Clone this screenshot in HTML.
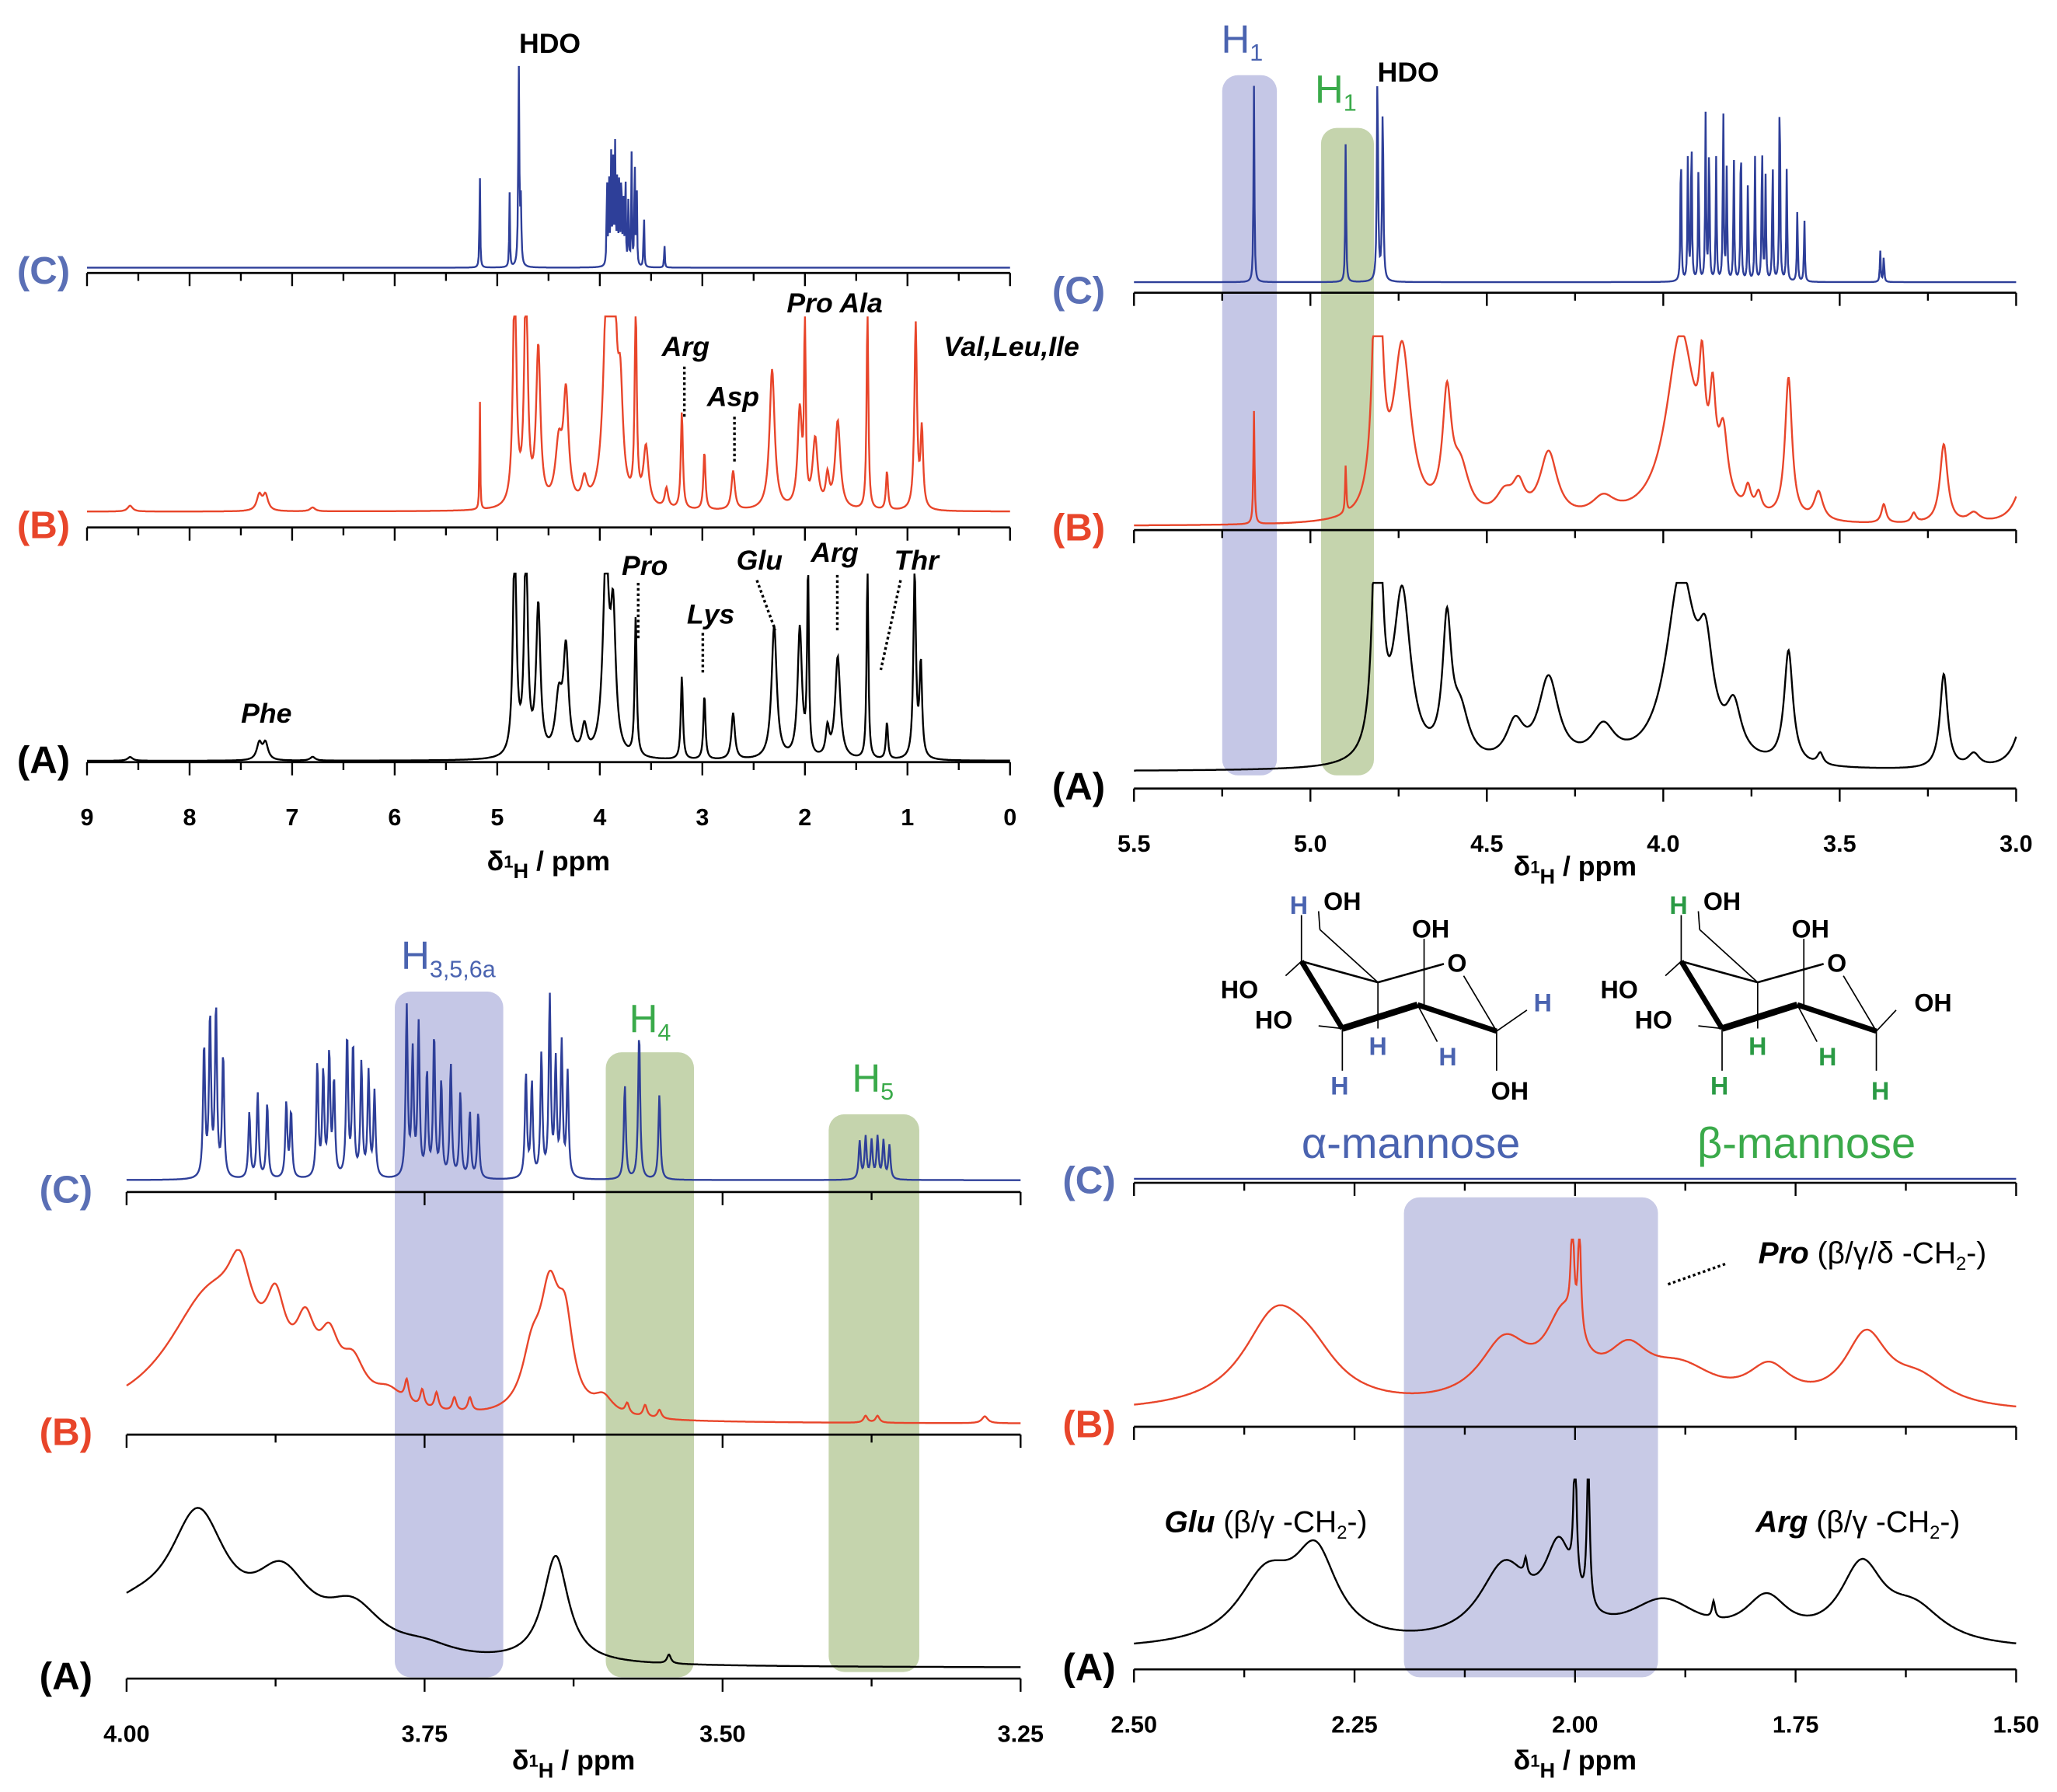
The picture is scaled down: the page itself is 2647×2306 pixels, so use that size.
<!DOCTYPE html>
<html><head><meta charset="utf-8"><style>
html,body{margin:0;padding:0;background:#fff}
svg{display:block}
text{font-family:"Liberation Sans",sans-serif}
</style></head><body>
<svg id="fig" width="2647" height="2306" viewBox="0 0 1560 1359" preserveAspectRatio="none" xmlns="http://www.w3.org/2000/svg">
<g id="bg"></g>
<g id="spec"></g>
<g id="ax"></g>
<g id="ann" font-weight="bold">
  <text x="417" y="40" font-size="21" text-anchor="middle">HDO</text>
  <text x="1068" y="62" font-size="21" text-anchor="middle">HDO</text>
  <g font-style="italic" font-size="21">
    <text x="202" y="548" text-anchor="middle">Phe</text>
    <text x="520" y="270" text-anchor="middle">Arg</text>
    <text x="556" y="308" text-anchor="middle">Asp</text>
    <text x="633" y="237" text-anchor="middle">Pro  Ala</text>
    <text x="767" y="270" text-anchor="middle">Val,Leu,Ile</text>
    <text x="489" y="436" text-anchor="middle">Pro</text>
    <text x="539" y="473" text-anchor="middle">Lys</text>
    <text x="576" y="432" text-anchor="middle">Glu</text>
    <text x="633" y="426" text-anchor="middle">Arg</text>
    <text x="695" y="432" text-anchor="middle">Thr</text>
  </g>
  <g stroke="#000" stroke-width="2" stroke-dasharray="2,2" fill="none">
    <line x1="519" y1="278" x2="519" y2="318"/><line x1="557" y1="316" x2="557" y2="352"/>
    <line x1="484" y1="442" x2="484" y2="484"/><line x1="533" y1="480" x2="533" y2="510"/>
    <line x1="574" y1="440" x2="588" y2="478"/><line x1="635" y1="436" x2="635" y2="480"/>
    <line x1="683" y1="440" x2="668" y2="508"/>
    <line x1="1265" y1="974" x2="1310" y2="958"/>
  </g>
  <text x="942" y="40" font-size="30" fill="#4a63b0" font-weight="normal" text-anchor="middle">H<tspan font-size="18" dy="6">1</tspan></text>
  <text x="1013" y="78" font-size="30" fill="#3aaa4a" font-weight="normal" text-anchor="middle">H<tspan font-size="18" dy="6">1</tspan></text>
  <text x="340" y="735" font-size="30" fill="#4a63b0" font-weight="normal" text-anchor="middle">H<tspan font-size="18" dy="6">3,5,6a</tspan></text>
  <text x="493" y="783" font-size="30" fill="#3aaa4a" font-weight="normal" text-anchor="middle">H<tspan font-size="18" dy="6">4</tspan></text>
  <text x="662" y="828" font-size="30" fill="#3aaa4a" font-weight="normal" text-anchor="middle">H<tspan font-size="18" dy="6">5</tspan></text>
  <text x="1420" y="958" font-size="23" text-anchor="middle"><tspan font-style="italic">Pro</tspan><tspan font-weight="normal"> (β/γ/δ -CH</tspan><tspan font-size="14" dy="5" font-weight="normal">2</tspan><tspan dy="-5" font-weight="normal">-)</tspan></text>
  <text x="960" y="1162" font-size="23" text-anchor="middle"><tspan font-style="italic">Glu</tspan><tspan font-weight="normal"> (β/γ -CH</tspan><tspan font-size="14" dy="5" font-weight="normal">2</tspan><tspan dy="-5" font-weight="normal">-)</tspan></text>
  <text x="1409" y="1162" font-size="23" text-anchor="middle"><tspan font-style="italic">Arg</tspan><tspan font-weight="normal"> (β/γ -CH</tspan><tspan font-size="14" dy="5" font-weight="normal">2</tspan><tspan dy="-5" font-weight="normal">-)</tspan></text>
  <text x="1070" y="878" font-size="33" fill="#4a63b0" font-weight="normal" text-anchor="middle">α-mannose</text>
  <text x="1370" y="878" font-size="33" fill="#3aaa4a" font-weight="normal" text-anchor="middle">β-mannose</text>
</g>
<g id="mol"></g>
</svg>
<script>
// ----- panel axis ranges (ppm) -----
const p1Range=[9,0], p2Range=[5.5,3.0], p3Range=[4.0,3.25], p4Range=[2.5,1.5];
// ----- peak data: positions (ppm), heights (rel), widths (ppm HWHM) -----
const p1C_pos=[5.17,4.88,4.79,4.77,3.93,3.91,3.89,3.87,3.85,3.83,3.81,3.79,3.77,3.75,3.72,3.69,3.66,3.64,3.57,3.37];
const p1C_h=[0.5,0.38,1.0,0.3,0.5,0.45,0.55,0.5,0.6,0.45,0.5,0.55,0.45,0.5,0.4,0.55,0.6,0.4,0.3,0.12];
const p1C_w=[0.004,0.004,0.006,0.006,0.004,0.004,0.004,0.004,0.004,0.004,0.004,0.004,0.004,0.004,0.004,0.004,0.004,0.004,0.004,0.004];
const p1B_pos=[8.58,7.32,7.26,6.8,5.17,4.83,4.72,4.6,4.4,4.33,4.15,3.93,3.86,3.8,3.65,3.55,3.35,3.2,2.98,2.7,2.32,2.05,2.0,1.9,1.78,1.68,1.39,1.2,0.92,0.86];
const p1B_h=[0.03,0.08,0.08,0.02,0.62,1.2,1.2,0.8,0.3,0.55,0.12,1.1,0.9,0.5,1.0,0.3,0.1,0.5,0.3,0.2,0.72,0.5,1.05,0.35,0.15,0.45,1.05,0.2,0.95,0.4];
const p1B_w=[0.03,0.03,0.03,0.03,0.004,0.02,0.02,0.025,0.04,0.03,0.03,0.04,0.03,0.03,0.012,0.03,0.02,0.012,0.012,0.02,0.03,0.025,0.008,0.03,0.02,0.03,0.01,0.012,0.015,0.015];
const p1A_pos=[8.58,7.32,7.26,6.8,4.83,4.72,4.6,4.4,4.33,4.15,3.94,3.87,3.65,3.2,2.98,2.7,2.3,2.05,1.97,1.68,1.78,1.39,1.2,0.93,0.87];
const p1A_h=[0.02,0.09,0.09,0.02,1.2,1.2,0.8,0.3,0.55,0.15,1.05,0.7,0.75,0.45,0.35,0.25,0.72,0.7,1.0,0.55,0.15,1.05,0.2,1.0,0.5];
const p1A_w=[0.03,0.03,0.03,0.03,0.02,0.02,0.025,0.04,0.03,0.03,0.035,0.03,0.012,0.012,0.012,0.02,0.03,0.025,0.01,0.03,0.02,0.01,0.012,0.015,0.015];
const p2C_pos=[5.16,4.90,4.81,4.795,3.95,3.93,3.92,3.90,3.88,3.87,3.85,3.83,3.82,3.80,3.78,3.76,3.74,3.72,3.71,3.69,3.67,3.65,3.62,3.60,3.385,3.375];
const p2C_h=[0.95,0.68,1.0,0.85,0.7,0.65,0.75,0.6,0.8,0.7,0.6,0.85,0.55,0.6,0.75,0.5,0.6,0.7,0.5,0.6,1.0,0.55,0.35,0.3,0.15,0.13];
const p2C_w=[0.0015,0.0015,0.002,0.002,0.0015,0.0015,0.0015,0.0015,0.0015,0.0015,0.0015,0.0015,0.0015,0.0015,0.0015,0.0015,0.0015,0.0015,0.0015,0.0015,0.0015,0.0015,0.0015,0.0015,0.0015,0.0015];
const p2B_pos=[5.16,4.90,4.81,4.74,4.613,4.575,4.45,4.41,4.325,4.17,3.95,3.89,3.86,3.83,3.76,3.73,3.645,3.56,3.375,3.29,3.205,3.12,2.97];
const p2B_h=[0.6,0.25,2.0,0.9,0.6,0.25,0.12,0.15,0.35,0.1,1.0,0.5,0.45,0.35,0.12,0.1,0.75,0.15,0.1,0.05,0.42,0.05,0.3];
const p2B_w=[0.002,0.002,0.012,0.03,0.015,0.03,0.03,0.02,0.03,0.04,0.05,0.01,0.01,0.015,0.01,0.01,0.012,0.015,0.008,0.008,0.013,0.02,0.03];
const p2A_pos=[4.81,4.74,4.613,4.575,4.42,4.325,4.17,3.95,3.88,3.80,3.645,3.555,3.205,3.12,2.97];
const p2A_h=[2.0,0.9,0.7,0.25,0.2,0.45,0.18,1.0,0.45,0.25,0.6,0.06,0.5,0.07,0.35];
const p2A_w=[0.012,0.03,0.015,0.03,0.03,0.035,0.04,0.05,0.025,0.025,0.015,0.01,0.013,0.02,0.03];
const p3C_pos=[3.935,3.93,3.925,3.919,3.897,3.89,3.882,3.866,3.862,3.84,3.835,3.83,3.826,3.815,3.81,3.803,3.797,3.792,3.765,3.76,3.755,3.748,3.742,3.736,3.728,3.72,3.712,3.705,3.665,3.66,3.652,3.645,3.64,3.635,3.63,3.582,3.57,3.553,3.385,3.38,3.375,3.37,3.365,3.36];
const p3C_h=[0.7,0.85,0.9,0.65,0.35,0.45,0.4,0.4,0.35,0.6,0.55,0.65,0.5,0.75,0.7,0.6,0.55,0.45,0.9,0.65,0.8,0.55,0.75,0.5,0.6,0.45,0.35,0.35,0.55,0.5,0.65,0.95,0.6,0.7,0.55,0.5,0.78,0.45,0.2,0.22,0.2,0.22,0.2,0.18];
const p3C_w=[0.001,0.001,0.001,0.001,0.001,0.001,0.001,0.001,0.001,0.001,0.001,0.001,0.001,0.001,0.001,0.001,0.001,0.001,0.001,0.001,0.001,0.001,0.001,0.001,0.001,0.001,0.001,0.001,0.001,0.001,0.001,0.001,0.001,0.001,0.001,0.001,0.001,0.001,0.001,0.001,0.001,0.001,0.001,0.001];
const p3B_pos=[3.93,3.905,3.875,3.85,3.83,3.81,3.78,3.765,3.752,3.74,3.725,3.712,3.66,3.645,3.632,3.60,3.58,3.565,3.553,3.38,3.37,3.28];
const p3B_h=[0.72,0.4,0.4,0.35,0.3,0.22,0.1,0.12,0.1,0.1,0.08,0.08,0.3,0.65,0.45,0.1,0.06,0.07,0.05,0.04,0.04,0.04];
const p3B_w=[0.045,0.012,0.01,0.01,0.01,0.012,0.015,0.002,0.002,0.002,0.002,0.002,0.01,0.01,0.008,0.01,0.002,0.002,0.002,0.002,0.002,0.003];
const p3A_pos=[4.0,3.94,3.87,3.81,3.75,3.64,3.545];
const p3A_h=[0.25,0.72,0.4,0.25,0.06,0.6,0.05];
const p3A_w=[0.05,0.03,0.03,0.03,0.03,0.013,0.002];
const p4B_pos=[2.34,2.30,2.08,2.013,2.003,1.995,1.94,1.88,1.78,1.67,1.61];
const p4B_h=[0.5,0.2,0.35,0.45,0.6,0.6,0.25,0.2,0.2,0.4,0.15];
const p4B_w=[0.045,0.04,0.035,0.025,0.002,0.002,0.03,0.05,0.03,0.03,0.04];
const p4A_pos=[2.35,2.294,2.08,2.056,2.018,2.0,1.985,1.9,1.843,1.783,1.675,1.615];
const p4A_h=[0.4,0.5,0.45,0.1,0.5,0.85,0.85,0.25,0.1,0.25,0.45,0.2];
const p4A_w=[0.04,0.03,0.035,0.002,0.02,0.002,0.002,0.05,0.002,0.03,0.03,0.04];

const NS="http://www.w3.org/2000/svg";
function mk(tag,attrs,parent){const e=document.createElementNS(NS,tag);for(const k in attrs)e.setAttribute(k,attrs[k]);parent.appendChild(e);return e;}
const gbg=document.getElementById('bg'),gsp=document.getElementById('spec'),gax=document.getElementById('ax'),gmol=document.getElementById('mol');

const panels=[
 {range:p1Range,x0:66,x1:766,axes:[207,400,578],major:1,minor:0.5,dec:0,titleY:660,labelX:33},
 {range:p2Range,x0:860,x1:1529,axes:[222,402,598],major:0.5,minor:0.25,dec:1,titleY:664,labelX:818},
 {range:p3Range,x0:96,x1:774,axes:[904,1088,1273],major:0.25,minor:0.125,dec:2,titleY:1342,labelX:50},
 {range:p4Range,x0:860,x1:1529,axes:[897,1082,1266],major:0.25,minor:0.125,dec:2,titleY:1342,labelX:826}
];
function xs(p,ppm){return p.x0+(p.range[0]-ppm)/(p.range[0]-p.range[1])*(p.x1-p.x0);}

const boxes=[[1,5.25,5.095,57,588,'#c5c7e6','h1-alpha-highlight'],[1,4.97,4.82,97,588,'#c5d4ad','h1-beta-highlight'],
 [2,3.775,3.684,752,1272,'#c5c7e6','h356a-highlight'],[2,3.598,3.524,798,1272,'#c5d4ad','h4-highlight'],
 [2,3.411,3.335,845,1268,'#c5d4ad','h5-highlight'],[3,2.194,1.906,908,1272,'#c8cae6','pro-highlight']];
boxes.forEach(b=>{const p=panels[b[0]];const xa=xs(p,b[1]),xb=xs(p,b[2]);
 const r=mk('rect',{x:xa,y:b[3],width:xb-xa,height:b[4]-b[3],rx:12,fill:b[5]},gbg);
 
 });

function spectrum(p,pos,h,w,base,scale,top,color,name){
 let d='';const n=(p.x1-p.x0)*2;
 for(let i=0;i<=n;i++){const x=p.x0+i/2;const ppm=p.range[0]-(x-p.x0)/(p.x1-p.x0)*(p.range[0]-p.range[1]);
  let s=0;for(let k=0;k<pos.length;k++){const dx=ppm-pos[k];s+=h[k]*w[k]*w[k]/(dx*dx+w[k]*w[k]);}
  let y=base-s*scale;if(y<top)y=top;d+=(i?'L':'M')+x.toFixed(1)+' '+y.toFixed(1);}
 const e=mk('path',{d:d,fill:'none',stroke:color,'stroke-width':1.4},gsp);
 
 }
const BL='#2e3f99',RD='#e8452a',BK='#000';
spectrum(panels[0],p1C_pos,p1C_h,p1C_w,203,153,50,BL,'spectrum-c-full');
spectrum(panels[0],p1B_pos,p1B_h,p1B_w,388,148,240,RD,'spectrum-b-full');
spectrum(panels[0],p1A_pos,p1A_h,p1A_w,577,141,435,BK,'spectrum-a-full');
spectrum(panels[1],p2C_pos,p2C_h,p2C_w,214,157,57,BL,'spectrum-c-anomeric');
spectrum(panels[1],p2B_pos,p2B_h,p2B_w,399,143,255,RD,'spectrum-b-anomeric');
spectrum(panels[1],p2A_pos,p2A_h,p2A_w,585,143,442,BK,'spectrum-a-anomeric');
spectrum(panels[2],p3C_pos,p3C_h,p3C_w,895,143,752,BL,'spectrum-c-ring');
spectrum(panels[2],p3B_pos,p3B_h,p3B_w,1080,130,948,RD,'spectrum-b-ring');
spectrum(panels[2],p3A_pos,p3A_h,p3A_w,1265,135,1128,BK,'spectrum-a-ring');
spectrum(panels[3],[],[],[],894,0,0,BL,'spectrum-c-aliphatic');
spectrum(panels[3],p4B_pos,p4B_h,p4B_w,1072,132,940,RD,'spectrum-b-aliphatic');
spectrum(panels[3],p4A_pos,p4A_h,p4A_w,1252,127,1122,BK,'spectrum-a-aliphatic');

const lbls=[['(C)','#5a6fb5'],['(B)','#e8452a'],['(A)','#000']];
panels.forEach((p,pi)=>{
 p.axes.forEach((ay,ai)=>{
  const l=mk('line',{x1:p.x0,x2:p.x1,y1:ay,y2:ay,stroke:'#000','stroke-width':1.6},gax);
  
  
  const lo=Math.min(...p.range),hi=Math.max(...p.range);
  for(let v=lo;v<=hi+1e-9;v+=p.minor){const x=xs(p,v);const maj=Math.abs(v/p.major-Math.round(v/p.major))<1e-6;
   mk('line',{x1:x,x2:x,y1:ay,y2:ay+(maj?10:6),stroke:'#000','stroke-width':1.4},gax);
   if(ai===2&&maj){const t=mk('text',{x:x,y:p.axes[2]+48,'font-size':18,'font-weight':'bold','text-anchor':'middle'},gax);t.textContent=v.toFixed(p.dec);
    
    }}
  const t=mk('text',{x:p.labelX,y:ay+8,'font-size':29,'font-weight':'bold',fill:lbls[ai][1],'text-anchor':'middle'},gax);t.textContent=lbls[ai][0];
  
  
 });
 const tt=mk('text',{x:(p.x0+p.x1)/2,y:p.titleY,'font-size':21,'font-weight':'bold','text-anchor':'middle'},gax);
 tt.innerHTML='δ<tspan font-size="13" dy="-2">1</tspan><tspan font-size="16" dy="8">H</tspan><tspan dy="-6"> / ppm</tspan>';
 
 
});

function mol(dx,hc,beta){
 const g=mk('g',{transform:'translate('+dx+',0)'},gmol);
 
 
 const L=(a,b,c,d,w)=>mk('line',{x1:a,y1:b,x2:c,y2:d,stroke:'#000','stroke-width':w||1},g);
 L(987,729,1018,780,4);L(1018,780,1075,762,5);L(1075,762,1135,782,4);
 L(987,729,1045,745,1.5);L(1045,745,1095,731,1.5);L(1110,740,1135,782,1);
 L(987,729,987,694,1);L(1000,691,1001,705,1);L(1001,705,1045,745,1);
 L(1080,712,1080,762,1);L(1045,745,1045,780,1);L(975,740,987,729,1);
 L(1000,778,1018,780,1);L(1018,780,1018,812,1);L(1075,762,1090,790,1);
 if(!beta){L(1135,782,1158,766,1);L(1135,782,1135,812,1);}else{L(1135,782,1150,766,1);L(1135,782,1135,812,1);}
 const T=(x,y,s,c)=>{const t=mk('text',{x:x,y:y,'font-size':19,'font-weight':'bold',fill:c||'#000','text-anchor':'middle'},g);t.textContent=s;};
 T(985,693,'H',hc);T(1018,690,'OH');T(1085,711,'OH');T(1105,737,'O');T(940,757,'HO');T(966,780,'HO');
 T(1045,800,'H',hc);T(1098,808,'H',hc);T(1016,830,'H',hc);
 if(!beta){T(1170,767,'H',hc);T(1145,834,'OH');}else{T(1178,767,'OH');T(1138,834,'H',hc);}
}
mol(0,'#4a63b0',false);mol(288,'#2a9a44',true);
</script>
</body></html>
